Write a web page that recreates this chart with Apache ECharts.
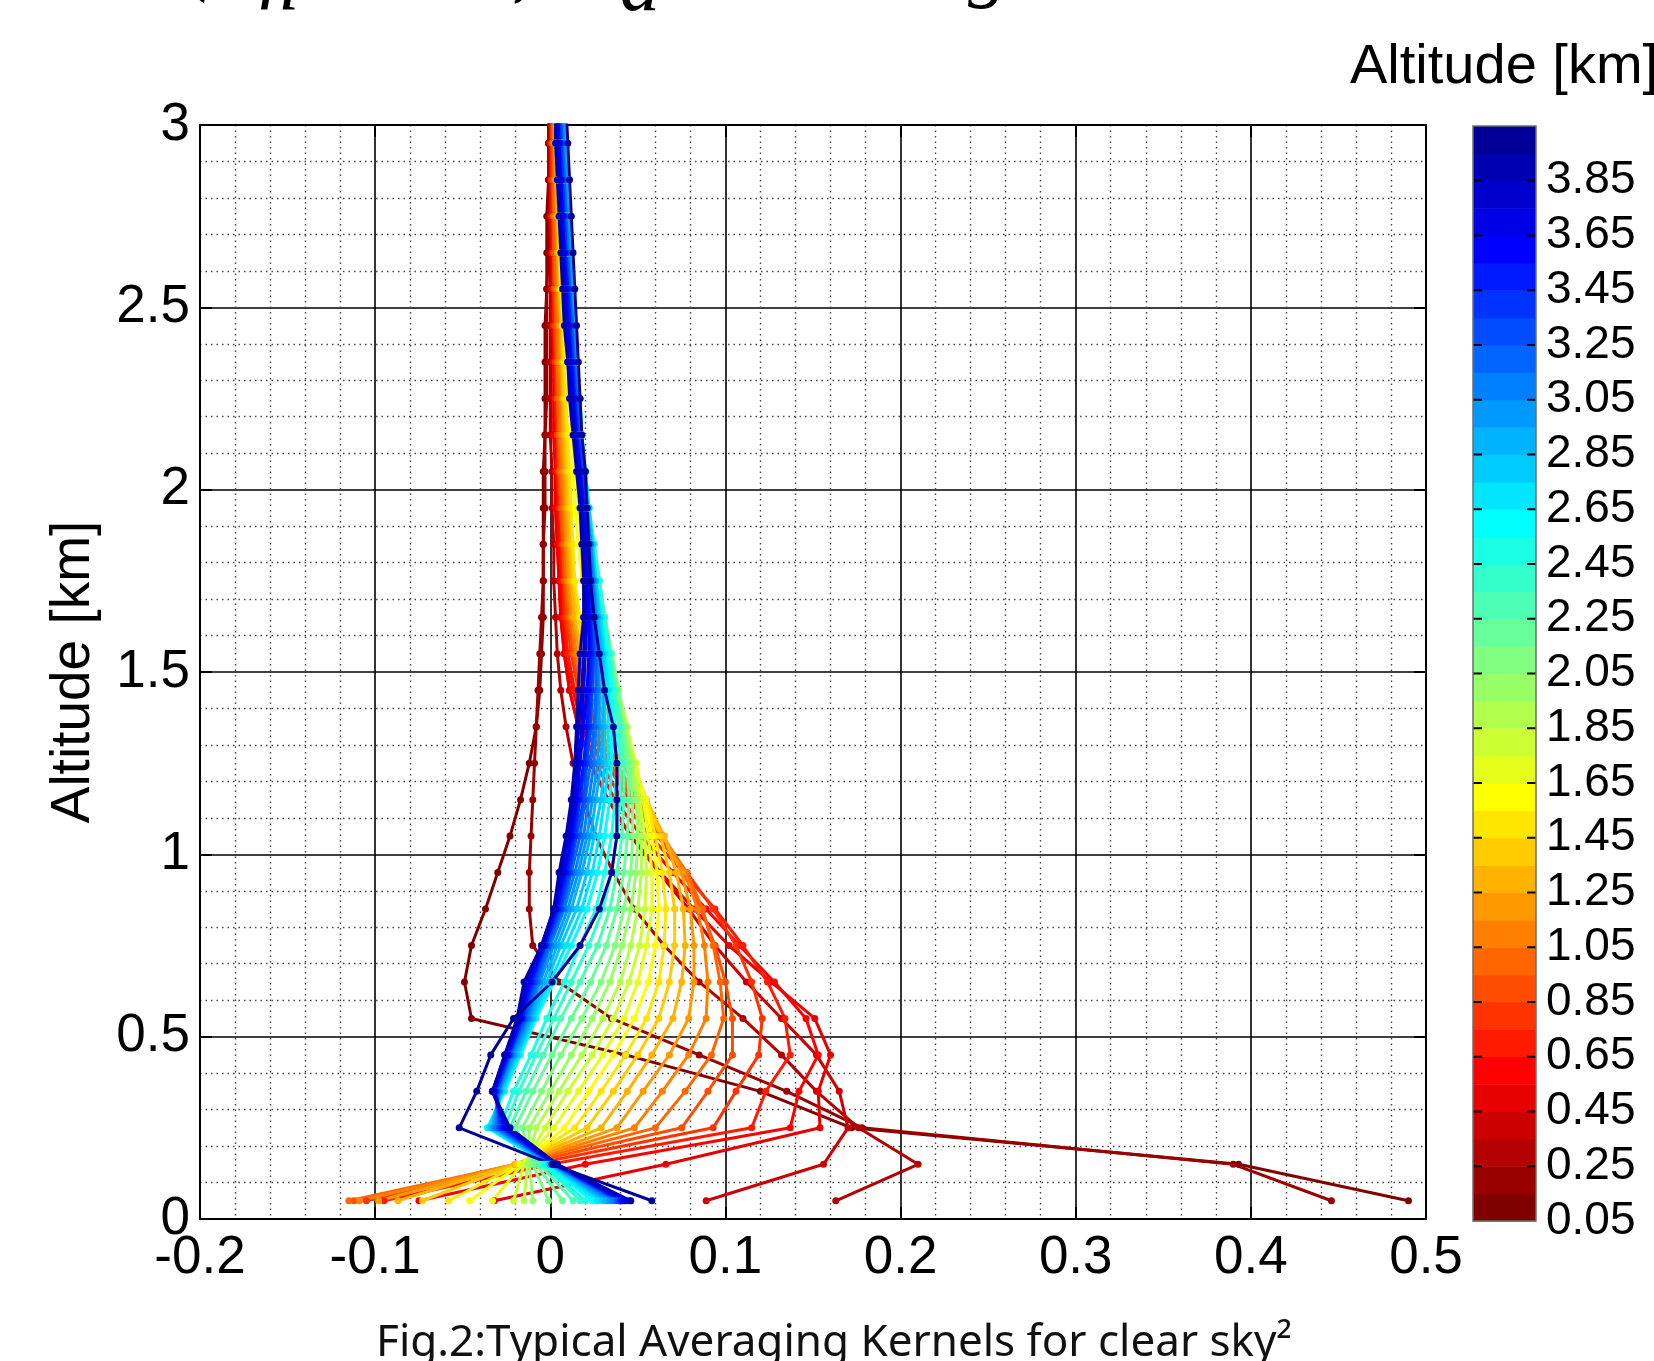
<!DOCTYPE html>
<html>
<head>
<meta charset="utf-8">
<script src="https://cdn.jsdelivr.net/npm/echarts@6.0.0/dist/echarts.min.js"></script>
<style>
html,body{margin:0;padding:0;background:#fff;}
#chart{width:1654px;height:1361px;}
</style>
</head>
<body>
<div id="chart"></div>
<script>
// ---------------- DATA ----------------
// altitude levels (km) at which each averaging kernel is sampled
const levelAltitudes = [0.05,0.15,0.25,0.35,0.45,0.55,0.65,0.75,0.85,0.95,1.05,1.15,1.25,1.35,1.45,1.55,1.65,1.75,1.85,1.95,2.05,2.15,2.25,2.35,2.45,2.55,2.65,2.75,2.85,2.95,3.05];
// nominal altitude (km) of each kernel (colour scale)
const kernelAltitudes = [0.05,0.15,0.25,0.35,0.45,0.55,0.65,0.75,0.85,0.95,1.05,1.15,1.25,1.35,1.45,1.55,1.65,1.75,1.85,1.95,2.05,2.15,2.25,2.35,2.45,2.55,2.65,2.75,2.85,2.95,3.05,3.15,3.25,3.35,3.45,3.55,3.65,3.75,3.85,3.95];
// tick labels
const xTickLabels = ['-0.2','-0.1','0','0.1','0.2','0.3','0.4','0.5'];
const yTickLabels = ['0','0.5','1','1.5','2','2.5','3'];
const colorbarTickLabels = ['0.05','0.25','0.45','0.65','0.85','1.05','1.25','1.45','1.65','1.85','2.05','2.25','2.45','2.65','2.85','3.05','3.25','3.45','3.65','3.85'];

// averaging-kernel values, one array per kernel altitude, one value per level
const ak005 = [.490,.393,.172,.120,.043,-.045,-.049,-.045,-.037,-.030,-.023,-.017,-.012,-.008,-.006,-.005,-.004,-.004,-.004,-.004,-.004,-.003,-.003,-.003,-.003,-.002,-.002,-.002,-.001,-.001,-.001];
const ak015 = [.446,.390,.178,.135,.085,.035,.005,-.010,-.012,-.012,-.011,-.010,-.009,-.008,-.007,-.006,-.005,-.004,-.004,-.003,-.003,-.003,-.002,-.002,-.002,-.002,-.001,-.001,-.001,-.001,-.001];
const ak025 = [.163,.210,.176,.152,.132,.110,.085,.065,.048,.036,.026,.019,.013,.009,.006,.004,.003,.002,.002,.001,.001,0,0,0,0,0,0,0,0,0,0];
const ak035 = [.089,.156,.170,.165,.152,.132,.112,.094,.079,.062,.046,.033,.023,.016,.011,.008,.006,.005,.004,.003,.003,.002,.002,.002,.001,.001,.001,.001,0,0,0];
const ak045 = [-.032,.066,.154,.153,.160,.151,.126,.102,.082,.063,.046,.033,.023,.016,.011,.008,.006,.005,.004,.003,.003,.002,.002,.002,.001,.001,.001,0,0,0,0];
const ak055 = [-.075,.020,.137,.142,.153,.146,.128,.108,.089,.070,.052,.037,.026,.018,.013,.009,.007,.006,.005,.004,.004,.003,.003,.002,.002,.002,.001,.001,.001,.001,0];
const ak065 = [-.095,.000,.115,.123,.137,.134,.124,.110,.094,.076,.057,.041,.029,.020,.014,.010,.008,.007,.006,.005,.004,.004,.003,.003,.002,.002,.002,.001,.001,.001,.001];
const ak075 = [-.105,-.010,.093,.106,.119,.121,.115,.106,.093,.078,.061,.045,.032,.022,.016,.012,.009,.008,.007,.006,.005,.004,.004,.003,.003,.002,.002,.002,.001,.001,.001];
const ak085 = [-.112,-.016,.075,.090,.104,.104,.100,.094,.086,.076,.062,.047,.034,.024,.017,.013,.010,.008,.007,.006,.005,.005,.004,.004,.003,.003,.002,.002,.002,.001,.001];
const ak095 = [-.115,-.019,.060,.077,.092,.099,.097,.093,.087,.078,.064,.049,.036,.026,.019,.014,.011,.009,.008,.007,.006,.005,.005,.004,.004,.003,.003,.002,.002,.002,.001];
const ak105 = [-.109,-.020,.048,.064,.079,.089,.090,.088,.084,.077,.064,.050,.038,.028,.020,.015,.012,.010,.009,.008,.007,.006,.006,.005,.005,.004,.004,.003,.003,.002,.002];
const ak115 = [-.098,-.020,.038,.053,.068,.079,.082,.082,.080,.075,.065,.053,.041,.030,.022,.017,.013,.011,.010,.009,.008,.007,.007,.006,.006,.005,.004,.004,.003,.003,.002];
const ak125 = [-.087,-.020,.029,.044,.058,.070,.075,.077,.076,.072,.065,.055,.044,.033,.024,.018,.014,.012,.011,.010,.009,.008,.007,.007,.006,.005,.005,.004,.004,.003,.003];
const ak135 = [-.073,-.019,.021,.036,.050,.062,.068,.071,.071,.068,.063,.055,.046,.036,.027,.020,.016,.013,.012,.011,.010,.009,.008,.007,.007,.006,.005,.005,.004,.003,.003];
const ak145 = [-.058,-.018,.014,.029,.043,.055,.062,.065,.066,.064,.060,.055,.047,.038,.029,.022,.017,.014,.013,.012,.011,.010,.009,.008,.007,.006,.006,.005,.004,.004,.003];
const ak155 = [-.046,-.017,.008,.022,.036,.048,.056,.060,.062,.061,.058,.054,.048,.041,.033,.026,.021,.018,.016,.014,.013,.012,.011,.010,.009,.008,.007,.006,.005,.005,.004];
const ak165 = [-.033,-.016,.002,.016,.030,.042,.050,.055,.058,.058,.056,.053,.049,.043,.036,.029,.024,.020,.018,.016,.015,.014,.012,.011,.010,.009,.008,.007,.006,.005,.005];
const ak175 = [-.021,-.015,-.003,.010,.024,.036,.045,.051,.054,.055,.054,.051,.048,.044,.039,.034,.030,.026,.023,.020,.017,.016,.014,.013,.012,.011,.010,.009,.008,.006,.005];
const ak185 = [-.015,-.013,-.008,.005,.018,.030,.040,.046,.050,.052,.052,.050,.047,.043,.039,.035,.031,.027,.024,.020,.018,.016,.015,.013,.012,.011,.010,.009,.008,.006,.005];
const ak195 = [-.010,-.012,-.012,.000,.012,.024,.034,.041,.046,.049,.050,.049,.046,.043,.039,.035,.031,.027,.024,.021,.018,.016,.015,.013,.012,.011,.010,.009,.008,.007,.006];
const ak205 = [-.001,-.010,-.016,-.005,.006,.018,.029,.037,.042,.046,.047,.047,.045,.042,.039,.035,.031,.028,.025,.021,.018,.016,.015,.013,.012,.011,.010,.009,.008,.007,.006];
const ak215 = [.007,-.008,-.020,-.010,.001,.012,.023,.032,.038,.042,.044,.045,.044,.041,.038,.035,.031,.028,.025,.022,.019,.017,.015,.014,.012,.011,.010,.009,.008,.007,.006];
const ak225 = [.013,-.006,-.023,-.014,-.004,.006,.017,.027,.034,.038,.041,.042,.042,.040,.037,.034,.031,.028,.025,.022,.019,.017,.016,.014,.013,.011,.010,.009,.008,.007,.006];
const ak235 = [.017,-.004,-.026,-.018,-.008,.002,.012,.022,.030,.035,.038,.040,.040,.039,.036,.034,.031,.028,.025,.022,.019,.017,.016,.014,.013,.012,.010,.009,.008,.007,.006];
const ak245 = [.020,-.003,-.029,-.021,-.011,-.002,.008,.017,.026,.031,.035,.037,.038,.037,.035,.033,.030,.027,.025,.022,.020,.018,.016,.015,.013,.012,.011,.009,.008,.007,.006];
const ak255 = [.024,-.002,-.036,-.026,-.017,-.008,.002,.012,.021,.027,.031,.034,.035,.035,.034,.032,.029,.026,.024,.022,.020,.018,.017,.015,.014,.013,.012,.011,.010,.009,.008];
const ak265 = [.027,-.001,-.035,-.027,-.018,-.009,.000,.009,.018,.024,.028,.031,.033,.033,.033,.031,.029,.026,.024,.022,.020,.018,.017,.015,.014,.013,.012,.011,.010,.009,.008];
const ak275 = [.030,.000,-.034,-.028,-.019,-.010,-.002,.006,.015,.021,.025,.029,.031,.031,.031,.030,.028,.026,.024,.022,.020,.018,.016,.015,.014,.012,.011,.010,.009,.008,.007];
const ak285 = [.032,.000,-.033,-.029,-.020,-.011,-.004,.004,.012,.018,.023,.026,.029,.030,.030,.029,.027,.025,.023,.021,.019,.018,.016,.015,.013,.012,.011,.010,.009,.008,.007];
const ak295 = [.034,.001,-.032,-.029,-.021,-.012,-.006,.002,.010,.016,.021,.024,.027,.028,.028,.028,.026,.025,.023,.021,.019,.017,.016,.014,.013,.012,.011,.010,.009,.008,.007];
const ak305 = [.036,.001,-.031,-.030,-.022,-.013,-.007,.000,.008,.014,.019,.022,.025,.026,.027,.027,.026,.024,.023,.021,.019,.017,.015,.014,.013,.011,.010,.009,.008,.007,.006];
const ak315 = [.038,.002,-.030,-.030,-.023,-.014,-.008,-.001,.007,.012,.017,.020,.023,.025,.026,.026,.025,.024,.022,.020,.018,.017,.015,.014,.012,.011,.010,.009,.008,.007,.006];
const ak325 = [.039,.002,-.029,-.031,-.023,-.015,-.009,-.002,.006,.011,.015,.019,.021,.023,.024,.025,.024,.023,.022,.020,.018,.016,.015,.013,.012,.011,.009,.008,.007,.006,.005];
const ak335 = [.040,.002,-.028,-.031,-.024,-.016,-.010,-.003,.005,.010,.014,.017,.020,.022,.023,.024,.023,.023,.021,.020,.018,.016,.014,.013,.011,.010,.009,.008,.007,.006,.005];
const ak345 = [.041,.003,-.027,-.032,-.024,-.016,-.011,-.003,.004,.009,.013,.016,.019,.021,.022,.023,.023,.022,.021,.019,.017,.015,.014,.012,.011,.010,.008,.007,.006,.005,.004];
const ak355 = [.042,.003,-.026,-.032,-.025,-.017,-.012,-.004,.003,.008,.012,.015,.017,.019,.021,.022,.022,.022,.020,.019,.017,.015,.013,.012,.010,.009,.008,.007,.006,.005,.004];
const ak365 = [.043,.003,-.025,-.033,-.025,-.017,-.013,-.004,.003,.007,.011,.014,.016,.018,.019,.020,.021,.021,.020,.018,.016,.014,.013,.011,.010,.008,.007,.006,.005,.004,.004];
const ak375 = [.045,.004,-.024,-.033,-.026,-.018,-.014,-.005,.002,.006,.010,.013,.015,.016,.018,.019,.020,.020,.019,.018,.016,.014,.012,.010,.009,.008,.007,.006,.005,.004,.003];
const ak385 = [.046,.004,-.023,-.033,-.026,-.019,-.015,-.005,.002,.005,.009,.012,.014,.015,.016,.017,.019,.019,.018,.017,.015,.013,.011,.010,.008,.007,.006,.005,.004,.003,.003];
const ak395 = [.058,.001,-.052,-.042,-.034,-.021,.001,.017,.028,.035,.038,.038,.038,.036,.031,.028,.025,.023,.022,.021,.020,.018,.017,.016,.015,.014,.013,.012,.011,.010,.009];

const kernels = [ak005,ak015,ak025,ak035,ak045,ak055,ak065,ak075,ak085,ak095,
  ak105,ak115,ak125,ak135,ak145,ak155,ak165,ak175,ak185,ak195,
  ak205,ak215,ak225,ak235,ak245,ak255,ak265,ak275,ak285,ak295,
  ak305,ak315,ak325,ak335,ak345,ak355,ak365,ak375,ak385,ak395];

// ---------------- STYLE ----------------
// MATLAB "jet" colormap with m entries (index 0 = dark blue)
function jet(m){
  const n = Math.ceil(m/4);
  const u = [];
  for(let i=1;i<=n;i++) u.push(i/n);
  for(let i=0;i<n-1;i++) u.push(1);
  for(let i=n;i>=1;i--) u.push(i/n);
  const g0 = Math.ceil(n/2) - (m%4===1?1:0);
  const R=new Array(m).fill(0), G=new Array(m).fill(0), B=new Array(m).fill(0);
  for(let idx=1; idx<=u.length; idx++){
    const g=g0+idx, r=g+n, b=g-n;
    if(g>=1&&g<=m) G[g-1]=u[idx-1];
    if(r>=1&&r<=m) R[r-1]=u[idx-1];
    if(b>=1&&b<=m) B[b-1]=u[idx-1];
  }
  return R.map((_,i)=>'rgb('+Math.round(R[i]*255)+','+Math.round(G[i]*255)+','+Math.round(B[i]*255)+')');
}
const nK = kernelAltitudes.length;
const cmap = jet(nK);
const colorOf = k => cmap[nK-1-k];   // low altitude = dark red, high = dark blue

const FONT = '"Liberation Sans", Arial, Helvetica, sans-serif';
const SERIF = '"Liberation Serif", "Times New Roman", serif';
const xMin=-0.2, xMax=0.5, xStep=0.1, yMin=0, yMax=3, yStep=0.5;
const cbStep = 0.2;
const cbBase = kernelAltitudes[0];                              // colour-bar axis is measured from the first kernel altitude
const cbBand = kernelAltitudes[1]-kernelAltitudes[0];           // one colour band per kernel
const cbMax = (kernelAltitudes[nK-1]-cbBase) + cbBand;          // 4.0
const cbTickEvery = Math.round(cbStep/cbBand);                  // a tick every 2 bands
const cbTickLen = 9;

const minorLine = {show:true, lineStyle:{color:'#444', width:1.4, type:[1.5,4]}};

const lineSeries = kernels.map((vals,k)=>({
  type:'line', name:String(kernelAltitudes[k]),
  xAxisIndex:0, yAxisIndex:0,
  data: vals.map((v,j)=>[v, levelAltitudes[j]]),
  symbol:'circle', symbolSize:7, showSymbol:true,
  lineStyle:{color:colorOf(k), width:3},
  itemStyle:{color:colorOf(k)},
  clip:true, silent:true, z:3, animation:false
}));

const colorbarSeries = {
  type:'custom', xAxisIndex:2, yAxisIndex:2, silent:true, clip:false, z:1,
  data: kernelAltitudes.map((a,k)=>[k, a]),
  renderItem:(params, api)=>{
    const k = api.value(0), a = api.value(1);
    const lo = a - cbBase, hi = a - cbBase + cbBand;
    const p0 = api.coord([0, lo]);
    const p1 = api.coord([1, hi]);
    const children = [{type:'rect',
      shape:{x:p0[0], y:p1[1], width:p1[0]-p0[0], height:p0[1]-p1[1]+0.6},
      style:{fill:colorOf(k), stroke:null}}];
    if (k % cbTickEvery === 0 && k > 0) {
      children.push({type:'line', shape:{x1:p0[0], y1:p0[1], x2:p0[0]+cbTickLen, y2:p0[1]}, style:{stroke:'#000', lineWidth:2}});
      children.push({type:'line', shape:{x1:p1[0]-cbTickLen, y1:p0[1], x2:p1[0], y2:p0[1]}, style:{stroke:'#000', lineWidth:2}});
    }
    return {type:'group', children};
  }
};

const fragStyle = (t)=>({text:t, font:'italic 80px '+SERIF, fill:'#000', align:'left', verticalAlign:'bottom', textAlign:'left', textVerticalAlign:'bottom'});

const option = {
  backgroundColor:'#fff',
  animation:false,
  grid:[
    {left:200, top:125, width:1226, height:1094, show:true, borderColor:'#000', borderWidth:2, backgroundColor:'#fff'},
    {left:1473, top:126, width:63, height:1095, show:true, borderColor:'#6d6d6d', borderWidth:1.5, backgroundColor:'transparent', z:6}
  ],
  xAxis:[
    {gridIndex:0, type:'value', min:xMin, max:xMax, interval:xStep, position:'bottom',
     axisLine:{show:true, onZero:false, lineStyle:{color:'#000', width:2}},
     axisTick:{show:true, inside:true, length:12, lineStyle:{color:'#000', width:2}},
     axisLabel:{show:true, margin:13, fontSize:53, fontFamily:FONT, color:'#000', showMinLabel:true, showMaxLabel:true,
       formatter:v=>xTickLabels[Math.round((v-xMin)/xStep)]},
     splitLine:{show:true, lineStyle:{color:'#000', width:1.6}},
     minorTick:{show:false, splitNumber:5},
     minorSplitLine:minorLine},
    {gridIndex:0, type:'value', min:xMin, max:xMax, interval:xStep, position:'top',
     axisLine:{show:true, onZero:false, lineStyle:{color:'#000', width:2}},
     axisTick:{show:true, inside:true, length:12, lineStyle:{color:'#000', width:2}},
     axisLabel:{show:false}, splitLine:{show:false}},
    {gridIndex:1, type:'value', min:0, max:1, show:false}
  ],
  yAxis:[
    {gridIndex:0, type:'value', min:yMin, max:yMax, interval:yStep, position:'left',
     axisLine:{show:true, onZero:false, lineStyle:{color:'#000', width:2}},
     axisTick:{show:true, inside:true, length:12, lineStyle:{color:'#000', width:2}},
     axisLabel:{show:true, margin:10, fontSize:53, fontFamily:FONT, color:'#000', showMinLabel:true, showMaxLabel:true,
       formatter:v=>yTickLabels[Math.round((v-yMin)/yStep)]},
     splitLine:{show:true, lineStyle:{color:'#000', width:1.6}},
     minorTick:{show:false, splitNumber:5},
     minorSplitLine:minorLine},
    {gridIndex:0, type:'value', min:yMin, max:yMax, interval:yStep, position:'right',
     axisLine:{show:true, onZero:false, lineStyle:{color:'#000', width:2}},
     axisTick:{show:true, inside:true, length:12, lineStyle:{color:'#000', width:2}},
     axisLabel:{show:false}, splitLine:{show:false}},
    {gridIndex:1, type:'value', min:0, max:cbMax, interval:cbStep, position:'right',
     axisLine:{show:false},
     axisTick:{show:false},
     axisLabel:{show:true, margin:10, fontSize:46, fontFamily:FONT, color:'#000', showMinLabel:true, showMaxLabel:true,
       formatter:(v)=>{const i=Math.round(v/cbStep); return colorbarTickLabels[i]!==undefined?colorbarTickLabels[i]:'';}},
     splitLine:{show:false}}
  ],
  series: lineSeries.concat([colorbarSeries]),
  graphic:[
    {type:'text', x:74, y:672, rotation:Math.PI/2, z:10,
     style:{text:'Altitude [km]', font:'55px '+FONT, fill:'#000', align:'center', verticalAlign:'middle', textAlign:'center', textVerticalAlign:'middle'}},
    {type:'text', x:1350, y:68, z:10,
     style:{text:'Altitude [km]', font:'56px '+FONT, fill:'#000', align:'left', verticalAlign:'middle', textAlign:'left', textVerticalAlign:'middle'}},
    {type:'text', x:834, y:1343, z:10,
     style:{text:'Fig.2:Typical Averaging Kernels for clear sky\u00B2', font:'44px "Noto Sans", sans-serif', fill:'#111', align:'center', verticalAlign:'middle', textAlign:'center', textVerticalAlign:'middle'}},
    // cut-off formula fragments at the very top edge
    {type:'text', x:186, y:5, z:10, style:fragStyle('(')},
    {type:'text', x:258, y:28, z:10, style:fragStyle('n')},
    {type:'text', x:512, y:10, z:10, style:fragStyle(',')},
    {type:'text', x:620, y:29, z:10, style:fragStyle('d')},
    {type:'text', x:968, y:11, z:10, style:fragStyle('g')}
  ]
};

const chart = echarts.init(document.getElementById('chart'), null, {renderer:'canvas', width:1654, height:1361, devicePixelRatio:1});
chart.setOption(option);
</script>
</body>
</html>
